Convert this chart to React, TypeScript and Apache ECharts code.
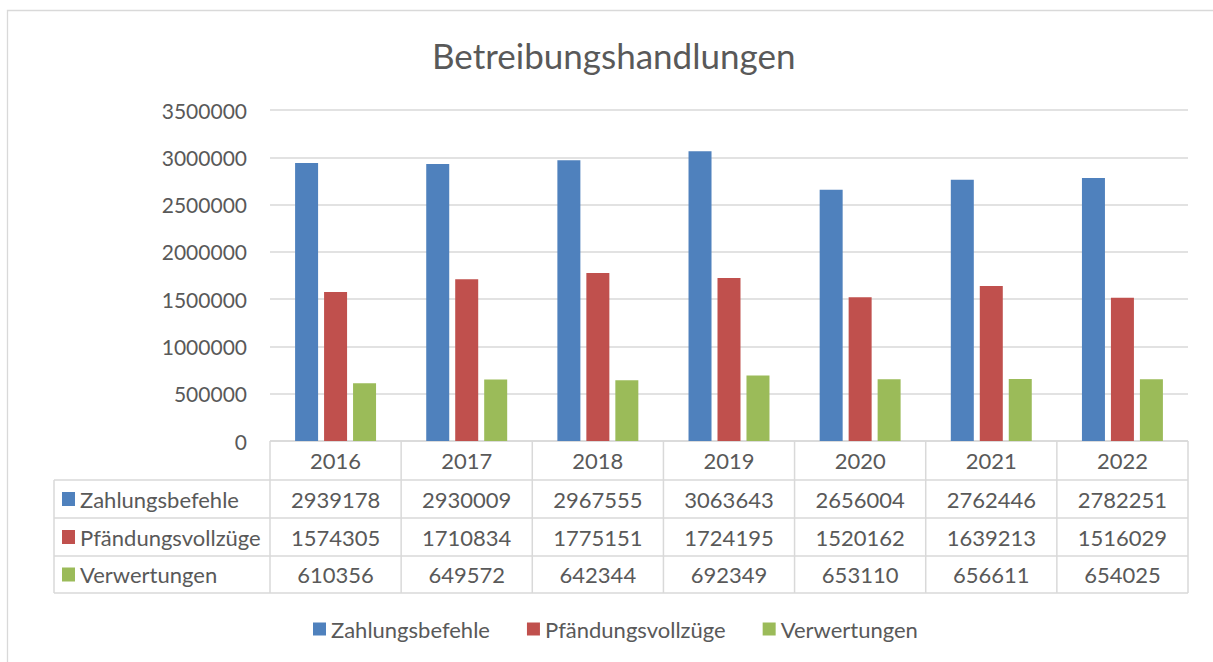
import React, { useEffect, useRef } from "react";
import * as echarts from "echarts";

const years = ["2016", "2017", "2018", "2019", "2020", "2021", "2022"];
const seriesNames = ["Zahlungsbefehle", "Pfändungsvollzüge", "Verwertungen"];
const zahlungsbefehle = [2939178, 2930009, 2967555, 3063643, 2656004, 2762446, 2782251];
const pfaendungsvollzuege = [1574305, 1710834, 1775151, 1724195, 1520162, 1639213, 1516029];
const verwertungen = [610356, 649572, 642344, 692349, 653110, 656611, 654025];
const colors = ["#4f81bd", "#c0504d", "#9bbb59"];
const yTicks = { min: 0, max: 3500000, interval: 500000 };

const FONT = "Lato";
const TXT = "#595959";
const LINE = "#d9d9d9";
const FS = 22;

export default function App() {
  const ref = useRef<HTMLDivElement>(null);
  useEffect(() => {
    if (!ref.current) return;
    const chart = echarts.init(ref.current, undefined, { renderer: "svg" });
    const W = 1213, H = 662;
    const gl = 270, gr = 1188, gt = 110, gb = 441;
    const colW = (gr - gl) / years.length;
    const tblLeft = 54;
    const rowY = [441, 480, 518, 556, 593];
    const data = [zahlungsbefehle, pfaendungsvollzuege, verwertungen];

    const g: any[] = [];
    g.push({ type: "rect", shape: { x: 7.5, y: 10.5, width: 1400, height: 900 }, style: { fill: "none", stroke: LINE, lineWidth: 1.3 }, silent: true });
    const hl = (x1: number, x2: number, y: number) => g.push({ type: "line", shape: { x1, y1: y, x2, y2: y }, style: { stroke: LINE, lineWidth: 1.5 }, silent: true });
    const vl = (x: number, y1: number, y2: number) => g.push({ type: "line", shape: { x1: x, y1, x2: x, y2 }, style: { stroke: LINE, lineWidth: 1.5 }, silent: true });
    hl(gl, gr, rowY[0]);
    for (let r = 1; r < rowY.length; r++) hl(tblLeft, gr, rowY[r]);
    vl(tblLeft, rowY[1], rowY[4]);
    for (let c = 0; c <= years.length; c++) vl(gl + c * colW, rowY[0], rowY[4]);
    years.forEach((y, c) => {
      g.push({ type: "text", x: gl + (c + 0.5) * colW, y: (rowY[0] + rowY[1]) / 2, style: { text: y, fill: TXT, font: `${FS}px ${FONT}`, align: "center", verticalAlign: "middle" }, silent: true });
    });
    seriesNames.forEach((name, r) => {
      const cy = (rowY[r + 1] + rowY[r + 2]) / 2;
      g.push({ type: "rect", shape: { x: 62, y: cy - 7, width: 13, height: 14 }, style: { fill: colors[r] }, silent: true });
      g.push({ type: "text", x: 80, y: cy, style: { text: name, fill: TXT, font: `${FS}px ${FONT}`, align: "left", verticalAlign: "middle" }, silent: true });
      data[r].forEach((v, c) => {
        g.push({ type: "text", x: gl + (c + 0.5) * colW, y: cy, style: { text: String(v), fill: TXT, font: `${FS}px ${FONT}`, align: "center", verticalAlign: "middle" }, silent: true });
      });
    });

    chart.setOption({
      animation: false,
      backgroundColor: "#fff",
      title: {
        text: "Betreibungshandlungen",
        left: 427,
        top: 32,
        textStyle: { fontFamily: FONT, fontSize: 35, fontWeight: "normal", color: TXT },
      },
      legend: {
        data: seriesNames,
        top: 613,
        left: 308,
        icon: "rect",
        itemWidth: 13,
        itemHeight: 13,
        itemGap: 37,
        textStyle: { fontFamily: FONT, fontSize: FS, color: TXT },
      },
      grid: { left: gl, right: W - gr, top: gt, bottom: H - gb, containLabel: false },
      xAxis: {
        type: "category",
        data: years,
        axisLine: { show: false },
        axisTick: { show: false },
        axisLabel: { show: false },
      },
      yAxis: {
        type: "value",
        min: yTicks.min,
        max: yTicks.max,
        interval: yTicks.interval,
        axisLine: { show: false },
        axisTick: { show: false },
        axisLabel: { fontFamily: FONT, fontSize: 21, color: TXT, margin: 23, formatter: (v: number) => String(v) },
        splitLine: { lineStyle: { color: LINE, width: 1.5 } },
      },
      series: seriesNames.map((name, i) => ({
        name,
        type: "bar",
        data: data[i],
        barWidth: 23,
        barGap: "26%",
        itemStyle: { color: colors[i] },
      })),
      graphic: g,
    });
    return () => chart.dispose();
  }, []);
  return <div ref={ref} style={{ position: "fixed", left: 0, top: 0, width: 1213, height: 662 }} />;
}
